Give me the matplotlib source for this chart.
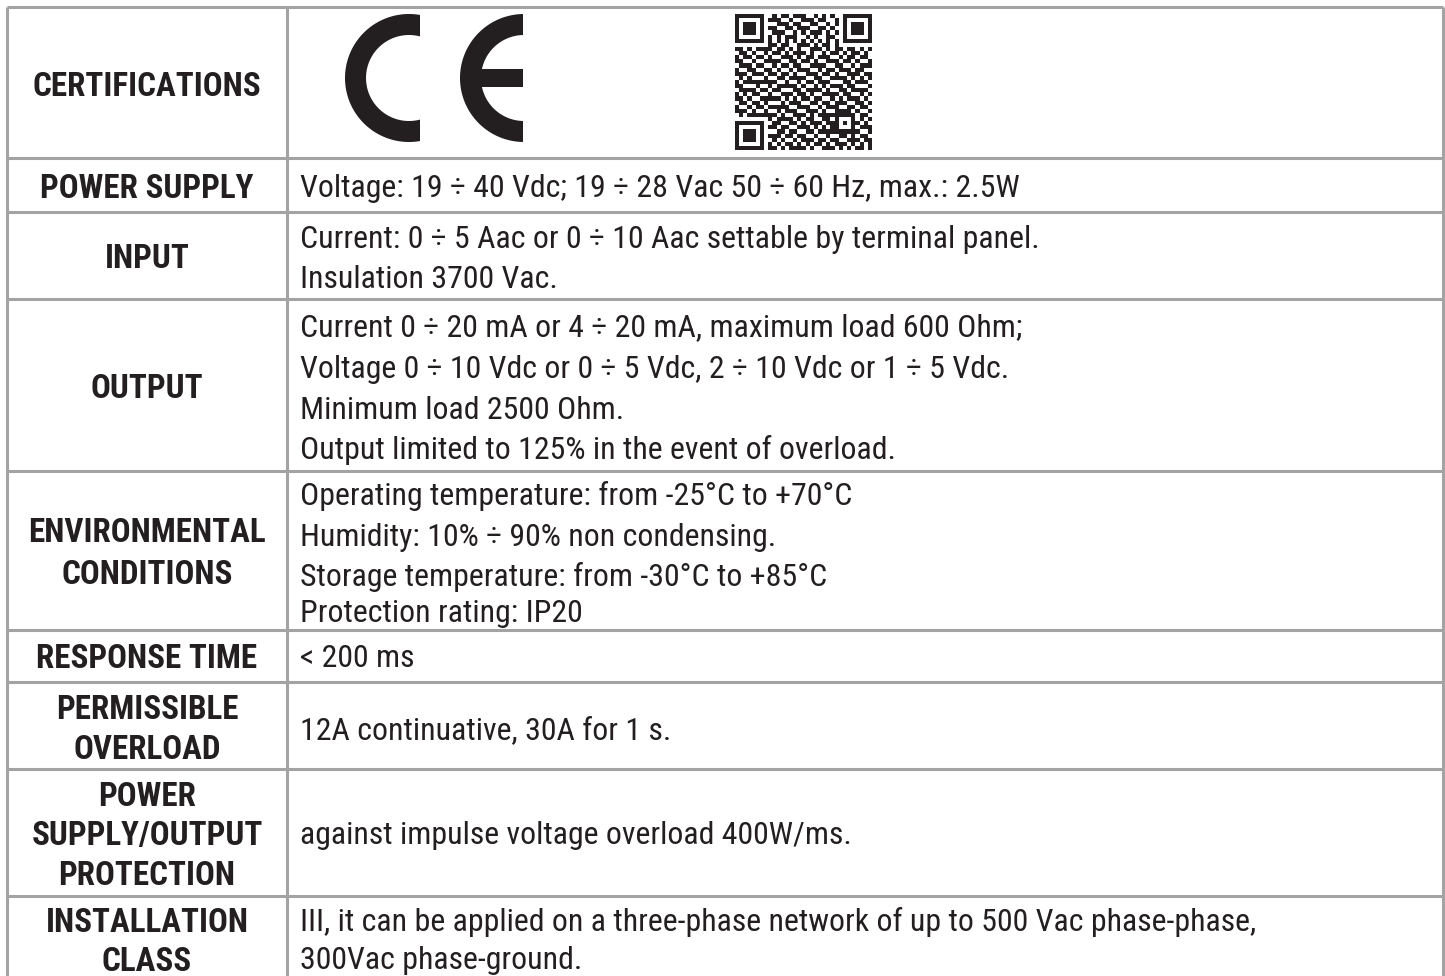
import time
import numpy as np
import matplotlib
matplotlib.use("Agg")
import matplotlib.pyplot as plt
from matplotlib import font_manager
from matplotlib.font_manager import FontProperties
from matplotlib.textpath import TextPath
from matplotlib.patches import Polygon, Rectangle

# ---------------- data ----------------
labels = [
    ["CERTIFICATIONS"],
    ["POWER SUPPLY"],
    ["INPUT"],
    ["OUTPUT"],
    ["ENVIRONMENTAL", "CONDITIONS"],
    ["RESPONSE TIME"],
    ["PERMISSIBLE", "OVERLOAD"],
    ["POWER", "SUPPLY/OUTPUT", "PROTECTION"],
    ["INSTALLATION", "CLASS"],
]
values = [
    [],
    ["Voltage: 19 ÷ 40 Vdc; 19 ÷ 28 Vac 50 ÷ 60 Hz, max.: 2.5W"],
    ["Current: 0 ÷ 5 Aac or 0 ÷ 10 Aac settable by terminal panel.",
     "Insulation 3700 Vac."],
    ["Current 0 ÷ 20 mA or 4 ÷ 20 mA, maximum load 600 Ohm;",
     "Voltage 0 ÷ 10 Vdc or 0 ÷ 5 Vdc, 2 ÷ 10 Vdc or 1 ÷ 5 Vdc.",
     "Minimum load 2500 Ohm.",
     "Output limited to 125% in the event of overload."],
    ["Operating temperature: from -25°C to +70°C",
     "Humidity: 10% ÷ 90% non condensing.",
     "Storage temperature: from -30°C to +85°C",
     "Protection rating: IP20"],
    ["< 200 ms"],
    ["12A continuative, 30A for 1 s."],
    ["against impulse voltage overload 400W/ms."],
    ["III, it can be applied on a three-phase network of up to 500 Vac phase-phase,",
     "300Vac phase-ground."],
]

qr_rows = [
    "111111100101101110010101001111111",
    "100000101110010011101100101000001",
    "101110100011101100110010101011101",
    "101110101100110111001101001011101",
    "101110100111001010111010101011101",
    "100000101010111001010011001000001",
    "111111101010101010101010101111111",
    "000000001101100111010110100000000",
    "110101111011010100111010110110101",
    "011010010110101110100101101011010",
    "101101101001110101101110010110110",
    "110010011110011011010011101101001",
    "011101100101101100111100110010111",
    "100110111010010111001011011101100",
    "111011001101101001110110100111011",
    "010100110011011110011001111010101",
    "101111011100100101101110001101110",
    "110001101011111010010101110110001",
    "011110010110001101111010011011110",
    "101011101001110110100111101100101",
    "110100011110101011011001010111010",
    "011011110001011100110110111001101",
    "100101001111100111001011100110110",
    "111010110010111001110100111101001",
    "010111011101001110101111101110110",
    "000000001011110101100110100010101",
    "111111100110011010111011101011010",
    "100000101101100111010101000100111",
    "101110100011011001101111111101001",
    "101110101110110110010010011010110",
    "101110100101001011101101100111011",
    "100000101010110101011010111010101",
    "111111101101011110100111010101101",
]

# ---------------- layout (pixel coordinates) ----------------
W, H = 1445, 976
row_edges = [7, 158, 212, 299, 471, 630, 682, 769, 896]
x_left, x_div, x_right = 7, 287, 1443
label_cx = 147
value_x = 300
label_y = [[84], [186], [256], [386], [530, 572], [656], [707, 747],
           [794, 833, 873], [920, 959]]
value_y = [[], [186], [237, 277], [325, 367, 408, 448],
           [494, 535, 575, 611], [656], [728], [833], [920, 958]]
body_ref, body_w, body_cap = values[1][0], 698.0, 23.3
bold_ref, bold_w, bold_cap = "CERTIFICATIONS", 235.0, 22.5

ink = "#231f20"
grid = "#a3a3a3"

preferred = ["liberation sans narrow", "arial narrow", "nimbus sans narrow",
             "helvetica narrow", "roboto condensed", "pt sans narrow",
             "open sans condensed", "noto sans condensed"]


def weight_num(w):
    if isinstance(w, (int, float)):
        return int(w)
    return 700 if "bold" in str(w) else 400


def pick_preferred(want):
    for p in preferred:
        fl = [f for f in font_manager.fontManager.ttflist
              if f.name.lower() == p and f.style == "normal"]
        if fl:
            f = min(fl, key=lambda f: abs(weight_num(f.weight) - want))
            if abs(weight_num(f.weight) - want) <= 150:
                return FontProperties(fname=f.fname)
    return None


def pick_ratio(want, ref, target_ratio, budget=20.0):
    t0 = time.time()
    best = None
    seen = set()
    for f in font_manager.fontManager.ttflist:
        if time.time() - t0 > budget:
            break
        nm, fn = f.name.lower(), f.fname.lower()
        if f.style != "normal" or fn in seen or "mono" in fn or "cjk" in fn or "fira" in fn:
            continue
        if not ("sans" in nm or "roboto" in nm or "lato" in nm or "inter" in nm):
            continue
        if not any(k in fn or k in nm for k in ("condensed", "narrow", "liberation", "roboto")):
            continue
        if abs(weight_num(f.weight) - want) > 120:
            continue
        seen.add(fn)
        try:
            fp = FontProperties(fname=f.fname)
            cap = TextPath((0, 0), "H", size=100, prop=fp).get_extents().height
            wid = TextPath((0, 0), ref, size=100, prop=fp).get_extents().width
        except Exception:
            continue
        if cap <= 0:
            continue
        score = abs(np.log((wid / cap) / target_ratio))
        if best is None or score < best[0]:
            best = (score, f.fname)
    if best is None:
        return FontProperties(family="Liberation Sans",
                              weight="bold" if want >= 600 else "normal")
    return FontProperties(fname=best[1])


fp_body = pick_preferred(400) or pick_ratio(400, body_ref, body_w / body_cap)
fp_bold = pick_preferred(700) or pick_ratio(700, bold_ref, bold_w / bold_cap)


def cap_unit(fp):
    return TextPath((0, 0), "H", size=100, prop=fp).get_extents().height / 100


def width_unit(fp, ref):
    return TextPath((0, 0), ref, size=100, prop=fp).get_extents().width / 100


def size_fit(fp, ref, width_px, cap_target):
    # font size in points (dpi 100): compromise between width and cap height
    s_w = width_px / width_unit(fp, ref) * 0.72
    s_c = cap_target / cap_unit(fp) * 0.72
    return float(np.sqrt(s_w * s_c))


body_fs = size_fit(fp_body, body_ref, body_w, body_cap)
label_fs = size_fit(fp_bold, bold_ref, bold_w, bold_cap)
body_capc = cap_unit(fp_body) * body_fs / 0.72
label_capc = cap_unit(fp_bold) * label_fs / 0.72

fig = plt.figure(figsize=(W / 100, H / 100), dpi=100)
ax = fig.add_axes([0, 0, 1, 1])
ax.set_xlim(0, W)
ax.set_ylim(H, 0)
ax.axis("off")

# grid lines
ax.hlines(row_edges, x_left, x_right, colors=grid, lw=2.2)
ax.vlines([x_left, x_div, x_right], row_edges[0], H, colors=grid, lw=2.2)


def put(x, ycap, s, fs, fp, capc, ha):
    ax.text(x, ycap + capc / 2, s, fontproperties=fp, fontsize=fs,
            ha=ha, va="baseline", color=ink)


for lab, ly in zip(labels, label_y):
    for s, y in zip(lab, ly):
        put(label_cx, y, s, label_fs, fp_bold, label_capc, "center")
for val, vy in zip(values, value_y):
    for s, y in zip(val, vy):
        put(value_x, y, s, body_fs, fp_body, body_capc, "left")


# ---------------- CE mark ----------------
def arc_letter(cx, cy, R, r, cut):
    t0 = np.arccos(min(cut / R, 1.0))
    t1 = np.arccos(min(cut / r, 1.0))
    to = np.linspace(t0, 2 * np.pi - t0, 120)
    ti = np.linspace(2 * np.pi - t1, t1, 120)
    pts = np.concatenate([
        np.column_stack([cx + R * np.cos(to), cy + R * np.sin(to)]),
        np.column_stack([cx + r * np.cos(ti), cy + r * np.sin(ti)]),
    ])
    ax.add_patch(Polygon(pts, closed=True, fc=ink, ec="none"))


arc_letter(409, 78, 64, 43, 11)
arc_letter(524, 78, 64, 43, -1)
ax.add_patch(Rectangle((479, 69), 44, 18, fc=ink, ec="none"))

# ---------------- QR code ----------------
n = 33
M = np.array([[int(c) for c in (r + "0" * n)[:n]] for r in qr_rows])


def finder(r0, c0):
    M[r0:r0 + 7, c0:c0 + 7] = 1
    M[r0 + 1:r0 + 6, c0 + 1:c0 + 6] = 0
    M[r0 + 2:r0 + 5, c0 + 2:c0 + 5] = 1


for (r0, c0) in [(0, 0), (0, n - 7), (n - 7, 0)]:
    finder(r0, c0)
M[7, 0:8] = 0; M[0:8, 7] = 0
M[7, n - 8:] = 0; M[0:8, n - 8] = 0
M[n - 8, 0:8] = 0; M[n - 8:, 7] = 0
for k in range(8, n - 8):
    M[6, k] = 1 - k % 2
    M[k, 6] = 1 - k % 2
M[24:29, 24:29] = 1
M[25:28, 25:28] = 0
M[26, 26] = 1

ax.imshow(M, cmap=matplotlib.colors.ListedColormap(["white", ink]),
          extent=(735, 872, 150, 14), interpolation="nearest", zorder=2)
ax.set_xlim(0, W)
ax.set_ylim(H, 0)

fig.savefig("out.png", dpi=100)
